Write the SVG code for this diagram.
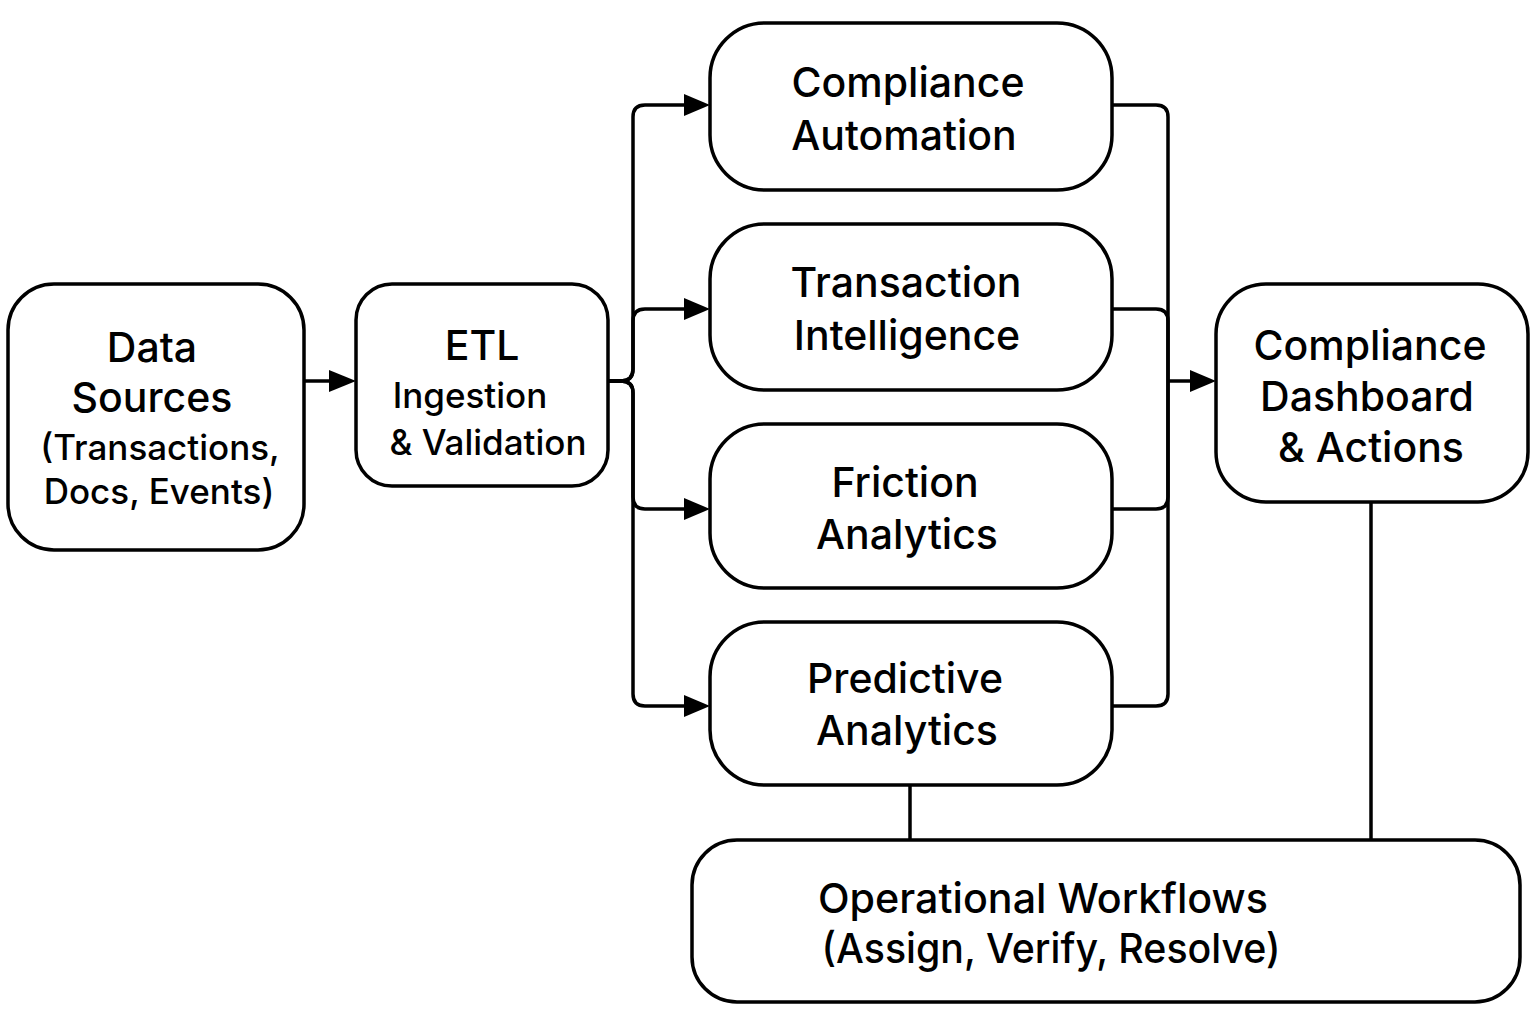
<svg xmlns="http://www.w3.org/2000/svg" width="1536" height="1024" viewBox="0 0 1536 1024">
<defs>
<style>
.box{fill:#fff;stroke:#000;stroke-width:3.5}
.ln{fill:none;stroke:#000;stroke-width:3.5}
.t{font-family:Inter,"Noto Sans","DejaVu Sans",sans-serif;fill:#000;text-anchor:middle;font-weight:500}
.l{font-size:41px}
.s{font-size:35px}
</style>
</defs>
<rect width="1536" height="1024" fill="#fff"/>
<g id="connectors">
<path class="ln" d="M304,381 H330"/>
<path d="M329,370 L356,381 L329,392 z"/>
<path class="ln" d="M608,381 H621 Q633,381 633,369 V117 Q633,105 645,105 H686"/>
<path class="ln" d="M608,381 H621 Q633,381 633,369 V321 Q633,309 645,309 H686"/>
<path class="ln" d="M608,381 H621 Q633,381 633,393 V497 Q633,509 645,509 H686"/>
<path class="ln" d="M608,381 H621 Q633,381 633,393 V694 Q633,706 645,706 H686"/>
<path d="M684,94 L710,105 L684,116 z"/>
<path d="M684,298 L710,309 L684,320 z"/>
<path d="M684,498 L710,509 L684,520 z"/>
<path d="M684,695 L710,706 L684,717 z"/>
<path class="ln" d="M1112,105 H1156 Q1168,105 1168,117 V381"/>
<path class="ln" d="M1112,309 H1156 Q1168,309 1168,321 V381"/>
<path class="ln" d="M1112,509 H1156 Q1168,509 1168,497 V381"/>
<path class="ln" d="M1112,706 H1156 Q1168,706 1168,694 V381"/>
<path class="ln" d="M1168,381 H1192"/>
<path d="M1190,370 L1216,381 L1190,392 z"/>
<path class="ln" d="M910,785 V840"/>
<path class="ln" d="M1371,502 V840"/>
</g>
<g id="data-sources">
<rect class="box" x="8" y="284" width="296" height="266" rx="46"/>
<text class="t l" x="152" y="362">Data</text>
<text class="t l" x="152" y="412">Sources</text>
<text class="t s" x="160" y="460">(Transactions,</text>
<text class="t s" x="159" y="504">Docs, Events)</text>
</g>
<g id="etl">
<rect class="box" x="356" y="284" width="252" height="202" rx="36"/>
<text class="t l" x="482" y="360">ETL</text>
<text class="t s" x="470" y="408">Ingestion</text>
<text class="t s" x="488" y="455">&amp; Validation</text>
</g>
<g id="compliance-automation">
<rect class="box" x="710" y="23" width="402" height="167" rx="55"/>
<text class="t l" x="908" y="97">Compliance</text>
<text class="t l" x="904" y="150">Automation</text>
</g>
<g id="transaction-intelligence">
<rect class="box" x="710" y="224" width="402" height="166" rx="55"/>
<text class="t l" x="906" y="297">Transaction</text>
<text class="t l" x="907" y="350">Intelligence</text>
</g>
<g id="friction-analytics">
<rect class="box" x="710" y="424" width="402" height="164" rx="55"/>
<text class="t l" x="905" y="497">Friction</text>
<text class="t l" x="907" y="549">Analytics</text>
</g>
<g id="predictive-analytics">
<rect class="box" x="710" y="622" width="402" height="163" rx="55"/>
<text class="t l" x="905" y="693">Predictive</text>
<text class="t l" x="907" y="745">Analytics</text>
</g>
<g id="compliance-dashboard">
<rect class="box" x="1216" y="284" width="312" height="218" rx="50"/>
<text class="t l" x="1370" y="360">Compliance</text>
<text class="t l" x="1367" y="411">Dashboard</text>
<text class="t l" x="1371" y="462">&amp; Actions</text>
</g>
<g id="operational-workflows">
<rect class="box" x="692" y="840" width="828" height="162" rx="45"/>
<text class="t l" x="1043" y="913" textLength="450" lengthAdjust="spacingAndGlyphs">Operational Workflows</text>
<text class="t l" x="1051" y="963" textLength="459" lengthAdjust="spacingAndGlyphs">(Assign, Verify, Resolve)</text>
</g>
</svg>
